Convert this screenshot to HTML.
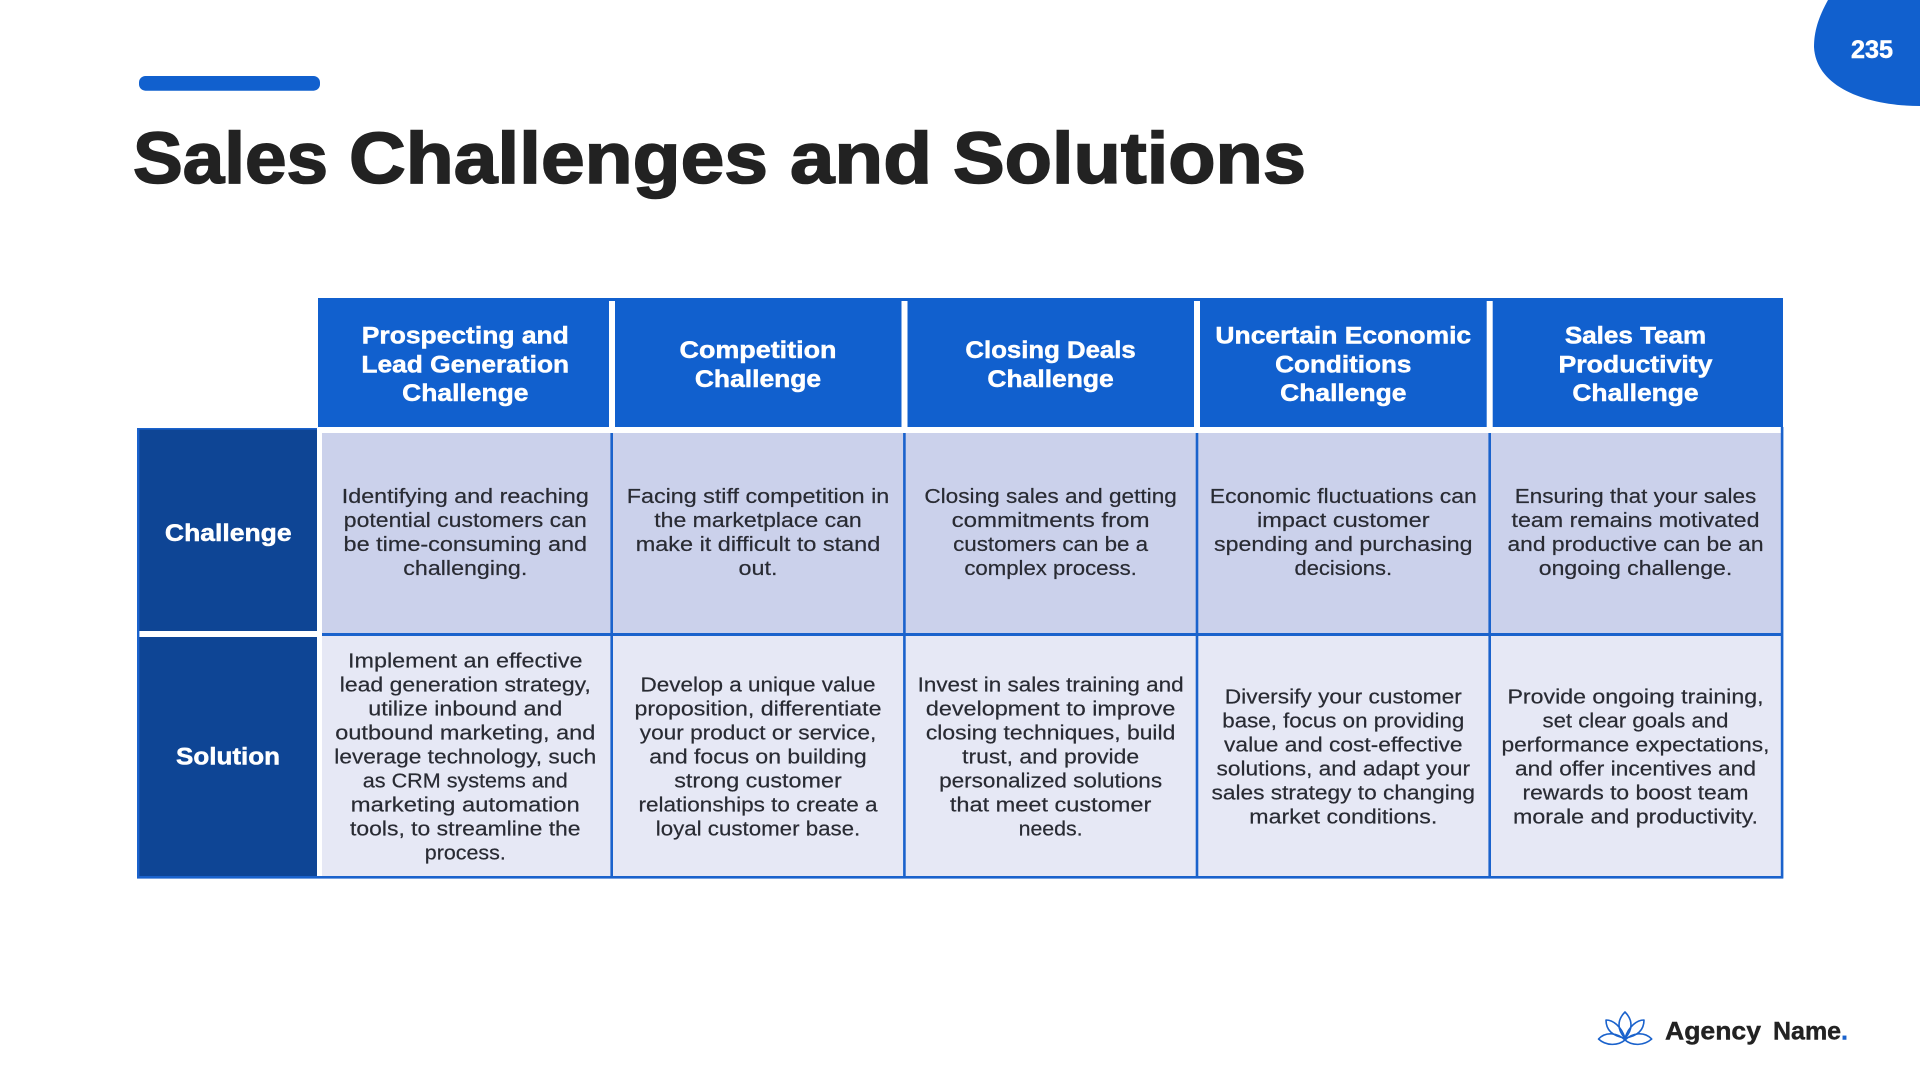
<!DOCTYPE html>
<html><head><meta charset="utf-8"><title>Sales Challenges and Solutions</title>
<style>
html,body{margin:0;padding:0;background:#fff;width:1920px;height:1080px;overflow:hidden}
svg{display:block}
text{font-family:"Liberation Sans",sans-serif;text-anchor:middle}
.b{font-size:20px;fill:#292b33;stroke:#292b33;stroke-width:.2px}
.h{font-size:24.5px;font-weight:bold;fill:#fff;stroke:#fff;stroke-width:.5px}
.t{font-size:72.5px;font-weight:bold;fill:#222;stroke:#222;stroke-width:1.6px}
.a{font-size:25px;font-weight:bold;fill:#222;stroke:#222;stroke-width:.4px}
</style></head><body>
<svg width="1920" height="1080" viewBox="0 0 1920 1080" xmlns="http://www.w3.org/2000/svg">
<rect width="1920" height="1080" fill="#fff"/>
<path d="M1828 0C1818 18 1814 32 1814 47C1816 88 1868 106 1920 106L1920 0Z" fill="#1160ce"/>
<text x="1872" y="58" font-size="25" font-weight="bold" fill="#fff" stroke="#fff" stroke-width=".5" textLength="42" lengthAdjust="spacingAndGlyphs">235</text>
<rect x="139" y="76" width="181" height="14.7" rx="6.5" fill="#1160ce"/>
<text class="t" x="230.5" y="183" textLength="195" lengthAdjust="spacingAndGlyphs">Sales</text>
<text class="t" x="558.5" y="183" textLength="419" lengthAdjust="spacingAndGlyphs">Challenges</text>
<text class="t" x="861" y="183" textLength="142" lengthAdjust="spacingAndGlyphs">and</text>
<text class="t" x="1129.5" y="183" textLength="353" lengthAdjust="spacingAndGlyphs">Solutions</text>

<rect x="318" y="298" width="1465" height="129" fill="#1160ce"/>
<g fill="#fff"><rect x="609" y="301" width="6" height="126"/><rect x="901.5" y="301" width="6" height="126"/><rect x="1194" y="301" width="6" height="126"/><rect x="1486.7" y="301" width="6" height="126"/></g>
<rect x="322" y="433" width="1459" height="201" fill="#cbd1eb"/>
<rect x="322" y="635" width="1459" height="242" fill="#e6e8f5"/>
<rect x="139" y="429" width="178" height="202" fill="#0e4595"/>
<rect x="139" y="637" width="178" height="240" fill="#0e4595"/>
<g fill="#1a62cc">
<rect x="137" y="428" width="180" height="1.6"/>
<rect x="137" y="428" width="2.4" height="450.5"/>
<rect x="137" y="876" width="1646" height="2.6"/>
<rect x="322" y="633" width="1461" height="3"/>
<rect x="610.4" y="433" width="2.6" height="445"/>
<rect x="903.1" y="433" width="2.6" height="445"/>
<rect x="1195.7" y="433" width="2.6" height="445"/>
<rect x="1488.4" y="433" width="2.6" height="445"/>
<rect x="1780.8" y="427" width="2.6" height="451.5"/>
</g>

<g class="lab">
<text class="h" x="228.3" y="541" textLength="126.7" lengthAdjust="spacingAndGlyphs">Challenge</text>
<text class="h" x="228" y="764.3" textLength="104" lengthAdjust="spacingAndGlyphs">Solution</text>
</g>

<!-- headers -->
<text class="h" x="465.3" y="343.5" textLength="207" lengthAdjust="spacingAndGlyphs">Prospecting and</text>
<text class="h" x="465.3" y="372.6" textLength="207.7" lengthAdjust="spacingAndGlyphs">Lead Generation</text>
<text class="h" x="465.3" y="401" textLength="126.3" lengthAdjust="spacingAndGlyphs">Challenge</text>
<text class="h" x="758" y="358.2" textLength="157" lengthAdjust="spacingAndGlyphs">Competition</text>
<text class="h" x="758" y="387" textLength="126.3" lengthAdjust="spacingAndGlyphs">Challenge</text>
<text class="h" x="1050.6" y="358.2" textLength="170.3" lengthAdjust="spacingAndGlyphs">Closing Deals</text>
<text class="h" x="1050.6" y="387" textLength="126.3" lengthAdjust="spacingAndGlyphs">Challenge</text>
<text class="h" x="1343.3" y="343.5" textLength="255.7" lengthAdjust="spacingAndGlyphs">Uncertain Economic</text>
<text class="h" x="1343.3" y="372.6" textLength="136.3" lengthAdjust="spacingAndGlyphs">Conditions</text>
<text class="h" x="1343.3" y="401" textLength="126.3" lengthAdjust="spacingAndGlyphs">Challenge</text>
<text class="h" x="1635.5" y="343.5" textLength="141.3" lengthAdjust="spacingAndGlyphs">Sales Team</text>
<text class="h" x="1635.5" y="372.6" textLength="154" lengthAdjust="spacingAndGlyphs">Productivity</text>
<text class="h" x="1635.5" y="401" textLength="126.3" lengthAdjust="spacingAndGlyphs">Challenge</text>

<!-- row 1 -->
<text class="b" x="465.3" y="503" textLength="247" lengthAdjust="spacingAndGlyphs">Identifying and reaching</text>
<text class="b" x="465.3" y="527" textLength="243" lengthAdjust="spacingAndGlyphs">potential customers can</text>
<text class="b" x="465.3" y="551" textLength="243.5" lengthAdjust="spacingAndGlyphs">be time-consuming and</text>
<text class="b" x="465.3" y="575" textLength="124" lengthAdjust="spacingAndGlyphs">challenging.</text>

<text class="b" x="758" y="503" textLength="262.5" lengthAdjust="spacingAndGlyphs">Facing stiff competition in</text>
<text class="b" x="758" y="527" textLength="207.5" lengthAdjust="spacingAndGlyphs">the marketplace can</text>
<text class="b" x="758" y="551" textLength="244.5" lengthAdjust="spacingAndGlyphs">make it difficult to stand</text>
<text class="b" x="758" y="575" textLength="39" lengthAdjust="spacingAndGlyphs">out.</text>

<text class="b" x="1050.6" y="503" textLength="252.5" lengthAdjust="spacingAndGlyphs">Closing sales and getting</text>
<text class="b" x="1050.6" y="527" textLength="198" lengthAdjust="spacingAndGlyphs">commitments from</text>
<text class="b" x="1050.6" y="551" textLength="195" lengthAdjust="spacingAndGlyphs">customers can be a</text>
<text class="b" x="1050.6" y="575" textLength="172.5" lengthAdjust="spacingAndGlyphs">complex process.</text>

<text class="b" x="1343.3" y="503" textLength="267" lengthAdjust="spacingAndGlyphs">Economic fluctuations can</text>
<text class="b" x="1343.3" y="527" textLength="172.5" lengthAdjust="spacingAndGlyphs">impact customer</text>
<text class="b" x="1343.3" y="551" textLength="258.5" lengthAdjust="spacingAndGlyphs">spending and purchasing</text>
<text class="b" x="1343.3" y="575" textLength="97.5" lengthAdjust="spacingAndGlyphs">decisions.</text>

<text class="b" x="1635.5" y="503" textLength="241.5" lengthAdjust="spacingAndGlyphs">Ensuring that your sales</text>
<text class="b" x="1635.5" y="527" textLength="248" lengthAdjust="spacingAndGlyphs">team remains motivated</text>
<text class="b" x="1635.5" y="551" textLength="256" lengthAdjust="spacingAndGlyphs">and productive can be an</text>
<text class="b" x="1635.5" y="575" textLength="193.5" lengthAdjust="spacingAndGlyphs">ongoing challenge.</text>

<!-- row 2 -->
<text class="b" x="465.3" y="667.7" textLength="234.5" lengthAdjust="spacingAndGlyphs">Implement an effective</text>
<text class="b" x="465.3" y="691.7" textLength="251" lengthAdjust="spacingAndGlyphs">lead generation strategy,</text>
<text class="b" x="465.3" y="715.7" textLength="194" lengthAdjust="spacingAndGlyphs">utilize inbound and</text>
<text class="b" x="465.3" y="739.7" textLength="260" lengthAdjust="spacingAndGlyphs">outbound marketing, and</text>
<text class="b" x="465.3" y="763.7" textLength="262" lengthAdjust="spacingAndGlyphs">leverage technology, such</text>
<text class="b" x="465.3" y="787.7" textLength="205" lengthAdjust="spacingAndGlyphs">as CRM systems and</text>
<text class="b" x="465.3" y="811.7" textLength="229" lengthAdjust="spacingAndGlyphs">marketing automation</text>
<text class="b" x="465.3" y="835.7" textLength="230.5" lengthAdjust="spacingAndGlyphs">tools, to streamline the</text>
<text class="b" x="465.3" y="859.7" textLength="81" lengthAdjust="spacingAndGlyphs">process.</text>

<text class="b" x="758" y="691.7" textLength="235" lengthAdjust="spacingAndGlyphs">Develop a unique value</text>
<text class="b" x="758" y="715.7" textLength="247" lengthAdjust="spacingAndGlyphs">proposition, differentiate</text>
<text class="b" x="758" y="739.7" textLength="236.5" lengthAdjust="spacingAndGlyphs">your product or service,</text>
<text class="b" x="758" y="763.7" textLength="217.5" lengthAdjust="spacingAndGlyphs">and focus on building</text>
<text class="b" x="758" y="787.7" textLength="167.5" lengthAdjust="spacingAndGlyphs">strong customer</text>
<text class="b" x="758" y="811.7" textLength="239" lengthAdjust="spacingAndGlyphs">relationships to create a</text>
<text class="b" x="758" y="835.7" textLength="204.5" lengthAdjust="spacingAndGlyphs">loyal customer base.</text>

<text class="b" x="1050.6" y="691.7" textLength="266" lengthAdjust="spacingAndGlyphs">Invest in sales training and</text>
<text class="b" x="1050.6" y="715.7" textLength="249.5" lengthAdjust="spacingAndGlyphs">development to improve</text>
<text class="b" x="1050.6" y="739.7" textLength="249.5" lengthAdjust="spacingAndGlyphs">closing techniques, build</text>
<text class="b" x="1050.6" y="763.7" textLength="177" lengthAdjust="spacingAndGlyphs">trust, and provide</text>
<text class="b" x="1050.6" y="787.7" textLength="223" lengthAdjust="spacingAndGlyphs">personalized solutions</text>
<text class="b" x="1050.6" y="811.7" textLength="201.5" lengthAdjust="spacingAndGlyphs">that meet customer</text>
<text class="b" x="1050.6" y="835.7" textLength="64" lengthAdjust="spacingAndGlyphs">needs.</text>

<text class="b" x="1343.3" y="703.7" textLength="237" lengthAdjust="spacingAndGlyphs">Diversify your customer</text>
<text class="b" x="1343.3" y="727.7" textLength="242" lengthAdjust="spacingAndGlyphs">base, focus on providing</text>
<text class="b" x="1343.3" y="751.7" textLength="238.5" lengthAdjust="spacingAndGlyphs">value and cost-effective</text>
<text class="b" x="1343.3" y="775.7" textLength="253.5" lengthAdjust="spacingAndGlyphs">solutions, and adapt your</text>
<text class="b" x="1343.3" y="799.7" textLength="263.5" lengthAdjust="spacingAndGlyphs">sales strategy to changing</text>
<text class="b" x="1343.3" y="823.7" textLength="188" lengthAdjust="spacingAndGlyphs">market conditions.</text>

<text class="b" x="1635.5" y="703.7" textLength="256" lengthAdjust="spacingAndGlyphs">Provide ongoing training,</text>
<text class="b" x="1635.5" y="727.7" textLength="186" lengthAdjust="spacingAndGlyphs">set clear goals and</text>
<text class="b" x="1635.5" y="751.7" textLength="268" lengthAdjust="spacingAndGlyphs">performance expectations,</text>
<text class="b" x="1635.5" y="775.7" textLength="241" lengthAdjust="spacingAndGlyphs">and offer incentives and</text>
<text class="b" x="1635.5" y="799.7" textLength="226" lengthAdjust="spacingAndGlyphs">rewards to boost team</text>
<text class="b" x="1635.5" y="823.7" textLength="245" lengthAdjust="spacingAndGlyphs">morale and productivity.</text>

<!-- logo -->
<g fill="none" stroke="#1a62cc" stroke-width="1.6" stroke-linejoin="round">
<path d="M1625 1012C1617 1020 1617 1030 1625 1038C1633 1030 1633 1020 1625 1012Z"/>
<path d="M1606 1020C1613 1020 1621 1026 1625 1038C1612 1036 1606 1030 1606 1020Z"/>
<path d="M1644 1020C1637 1020 1629 1026 1625 1038C1638 1036 1644 1030 1644 1020Z"/>
<path d="M1598.5 1039C1606 1031 1618 1033 1625 1040C1618 1046 1606 1046 1598.5 1039Z"/>
<path d="M1651.7 1039C1644 1031 1632 1033 1625 1040C1632 1046 1644 1046 1651.7 1039Z"/>
</g>
<text class="a" x="1713" y="1039.3" textLength="96" lengthAdjust="spacingAndGlyphs">Agency</text>
<text class="a" x="1810.5" y="1039.3" textLength="75" lengthAdjust="spacingAndGlyphs">Name<tspan fill="#1a62cc" stroke="#1a62cc">.</tspan></text>
</svg>
</body></html>
